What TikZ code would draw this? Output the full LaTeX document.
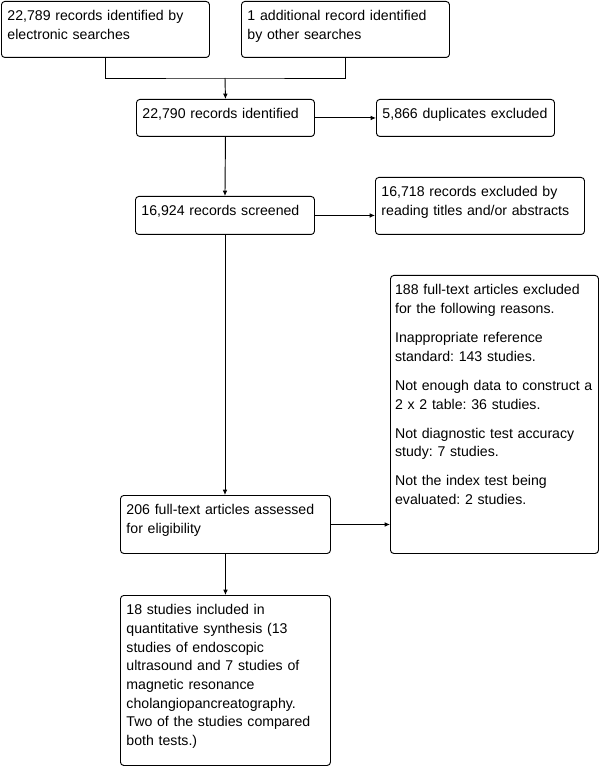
\documentclass[tikz,border=0pt]{standalone}
\usepackage{fontspec}
\setmainfont{Liberation Sans}
\frenchspacing
\usetikzlibrary{arrows.meta}

\begin{document}
\begin{tikzpicture}[x=0.75pt,y=0.75pt,yscale=-1,xscale=1,
  stage/.style={draw, line width=0.7pt, rounded corners=2.5pt, anchor=north west, align=left,
    inner xsep=4.5pt, inner ysep=4pt, text height=10.6pt,
    font=\fontsize{10.6pt}{14pt}\selectfont},
  flow/.style={line width=0.7pt, -{Latex[length=4pt,width=3.5pt]}}]
\useasboundingbox (0,0) rectangle (601,766);

% Text Node
\node[stage, text width=147pt, text depth=23.4pt] (elec) at (1,1) {22,789 records identified by\\electronic searches};
% Text Node
\node[stage, text width=147pt, text depth=23.4pt] (other) at (241,1) {1 additional record identified\\by other searches};
% Text Node
\node[stage, text width=124.5pt, text depth=9.15pt] (ident) at (136,99) {22,790 records identified};
% Text Node
\node[stage, text width=124.5pt, text depth=9.15pt] (dupl) at (376,99) {5,866 duplicates excluded};
% Text Node
\node[stage, text width=125.25pt, text depth=9.9pt] (screen) at (135,196) {16,924 records screened};
% Text Node
\node[stage, text width=147.75pt, text depth=24.15pt] (titles) at (375,177) {16,718 records excluded by\\reading titles and/or abstracts};
% Text Node
\node[stage, inner xsep=3.5pt, text width=149pt, text depth=189.9pt] (reasons) at (390,275) {188 full-text articles excluded\\for the following reasons.\\[7.8pt]Inappropriate reference\\standard: 143 studies.\\[7.8pt]Not enough data to construct a\\2 x 2 table: 36 studies.\\[7.8pt]Not diagnostic test accuracy\\study: 7 studies.\\[7.8pt]Not the index test being\\evaluated: 2 studies.};
% Text Node
\node[stage, text width=148.5pt, text depth=24.9pt] (fulltext) at (120,495) {206 full-text articles assessed\\for eligibility};
% Text Node
\node[stage, text width=148.5pt, text depth=108.9pt] (included) at (120,595) {18 studies included in\\quantitative synthesis (13\\studies of endoscopic\\ultrasound and 7 studies of\\magnetic resonance\\cholangiopancreatography.\\Two of the studies compared\\both tests.)};

%Straight Lines
\coordinate (merge) at (225,78);
\draw [line width=0.7pt] (elec.south) |- (merge) -| (other.south);
\draw [flow] (merge) -- (ident.north);
%Straight Lines
\draw [flow] (ident.east) -- (ident.east -| dupl.west);
\draw [flow] (ident.south) -- (screen.north);
%Straight Lines
\draw [flow] (screen.east) -- (screen.east -| titles.west);
\draw [flow] (screen.south) -- (screen.south |- fulltext.north);
%Straight Lines
\draw [flow] (fulltext.east) -- (fulltext.east -| reasons.west);
\draw [flow] (fulltext.south) -- (included.north);

\end{tikzpicture}
\end{document}
